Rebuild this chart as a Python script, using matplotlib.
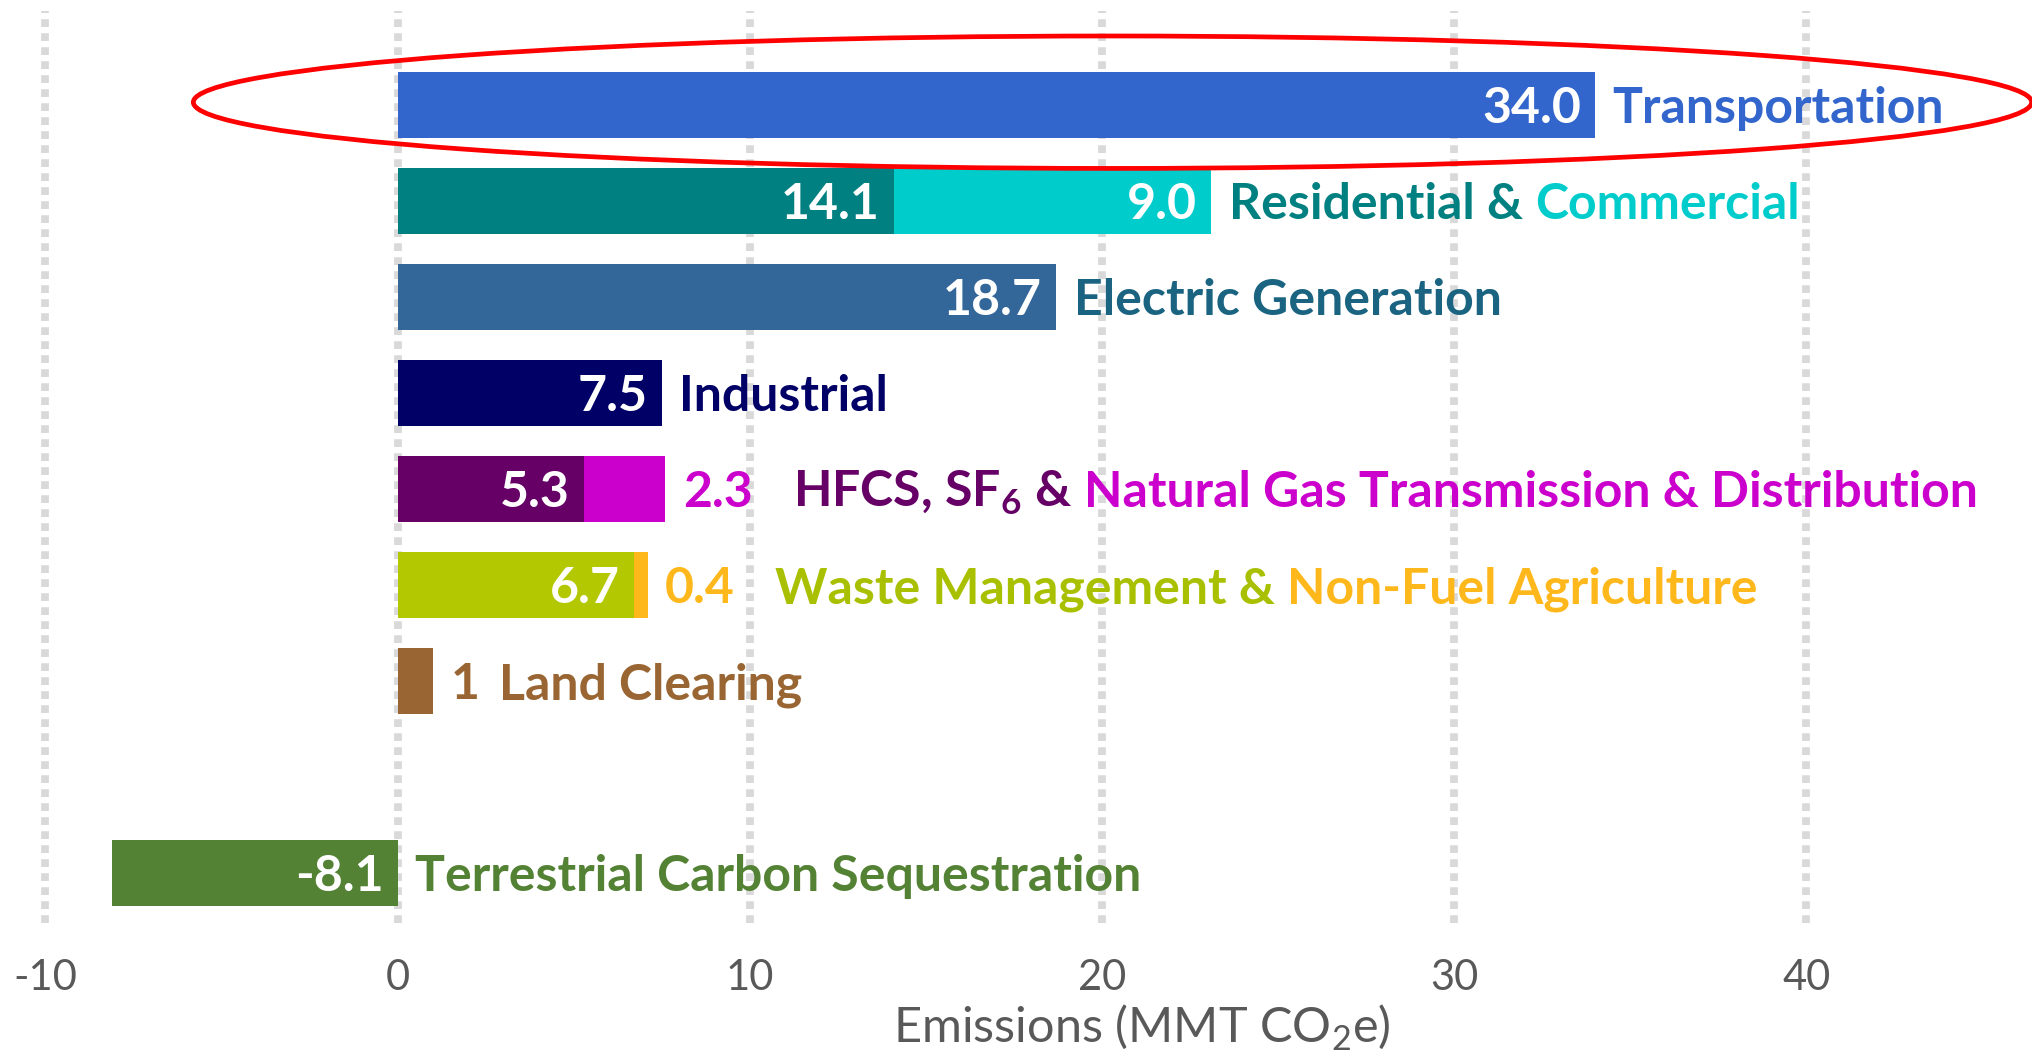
import matplotlib.pyplot as plt
from matplotlib import transforms
from matplotlib.patches import Ellipse

plt.rcParams['font.family'] = ['Lato', 'DejaVu Sans']
plt.rcParams['mathtext.fontset'] = 'custom'
plt.rcParams['mathtext.rm'] = 'Lato'

# chart data
sectors = ['Transportation', 'Residential & Commercial', 'Electric Generation', 'Industrial',
           'HFCS, SF6 & Natural Gas T&D', 'Waste Management & Non-Fuel Agriculture',
           'Land Clearing', 'Terrestrial Carbon Sequestration']
first_part = [34.0, 14.1, 18.7, 7.5, 5.3, 6.7, 1.0, -8.1]
second_part = [0.0, 9.0, 0.0, 0.0, 2.3, 0.4, 0.0, 0.0]
first_labels = ['34.0', '14.1', '18.7', '7.5', '5.3', '6.7', '1', '-8.1']
second_labels = ['', '9.0', '', '', '2.3', '0.4', '', '']
ticks = [-10, 0, 10, 20, 30, 40]

first_colors = ['#3366CC', '#008080', '#336699', '#000066', '#660066', '#B3C800', '#996633', '#548235']
second_colors = [None, '#00CCCC', None, None, '#CC00CC', '#FFB81C', None, None]
name_parts = [
    [('Transportation', '#3366CC')],
    [('Residential &', '#008080'), ('Commercial', '#00CCCC')],
    [('Electric Generation', '#1A6482')],
    [('Industrial', '#000066')],
    [('HFCS, SF$_\\mathregular{6}$ &', '#660066'), ('Natural Gas Transmission & Distribution', '#CC00CC')],
    [('Waste Management &', '#A9C000'), ('Non-Fuel Agriculture', '#FFB81C')],
    [('Land Clearing', '#996633')],
    [('Terrestrial Carbon Sequestration', '#548235')],
]

# layout
slots = [0, 1, 2, 3, 4, 5, 6, 8]   # one empty row before the sink
bar_h = 0.69
font_size = 36
inside_min = 3.0     # segments narrower than this get their number outside
label_gap = 0.5
value_pad = 0.4
baseline_drop = 0.19
word_gap_px = 12
value_gap_px = 40

fig = plt.figure(figsize=(20.32, 10.56), dpi=100)
ax = fig.add_axes([0, 0.1262, 1, 0.8638])
ax.set_xlim(-11.29, 46.41)
ax.set_ylim(8.52, -0.985)

for x in ticks:
    ax.axvline(x, color='#D9D9D9', lw=5.6, ls=(0, (1.0, 0.8)), zorder=0)

ax.barh(slots, first_part, height=bar_h, color=first_colors, zorder=2)
ax.barh(slots, second_part, left=first_part, height=bar_h,
        color=[c if c else 'none' for c in second_colors], zorder=2)

fig.canvas.draw()
renderer = fig.canvas.get_renderer()


def draw_pieces(x, y, pieces):
    tr = ax.transData
    for text, color, gap in pieces:
        t = ax.text(x, y, text, color=color, fontsize=font_size, fontweight='bold',
                    ha='left', va='baseline', transform=tr, zorder=3)
        ext = t.get_window_extent(renderer)
        tr = transforms.offset_copy(t.get_transform(), x=ext.width + gap, units='dots')


for i, y in enumerate(slots):
    base = y + baseline_drop
    end1 = first_part[i]
    right1 = max(end1, 0)
    pieces = []
    # number for the first segment
    if abs(end1) >= inside_min:
        ax.text(right1 - value_pad, base, first_labels[i], color='white', fontsize=font_size,
                fontweight='bold', ha='right', va='baseline', zorder=3)
    else:
        pieces.append((first_labels[i], first_colors[i], value_gap_px - 20))
    # number for the second segment
    end = right1
    if second_part[i] > 0:
        end = end1 + second_part[i]
        if second_part[i] >= inside_min:
            ax.text(end - value_pad, base, second_labels[i], color='white', fontsize=font_size,
                    fontweight='bold', ha='right', va='baseline', zorder=3)
        else:
            pieces.append((second_labels[i], second_colors[i], value_gap_px))
    pieces += [(txt, col, word_gap_px) for txt, col in name_parts[i]]
    draw_pieces(end + label_gap, base, pieces)

# highlight ring round the first row
ax.add_patch(Ellipse((20.3, -0.03), 52.2, 1.38, fill=False, edgecolor='#FF0000',
                     lw=3.4, zorder=4, clip_on=False))

ax.set_xticks(ticks, labels=[str(t) for t in ticks])
ax.set_yticks([])
ax.tick_params(axis='x', length=0, pad=26, labelsize=30, labelcolor='#595959')
for s in ax.spines.values():
    s.set_visible(False)

ax.set_xlabel('Emissions (MMT CO$_\\mathregular{2}$e)', fontsize=35, color='#595959', va='center')
ax.xaxis.set_label_coords(0.562, 0.027, transform=fig.transFigure)

fig.savefig('out.png', dpi=100)
